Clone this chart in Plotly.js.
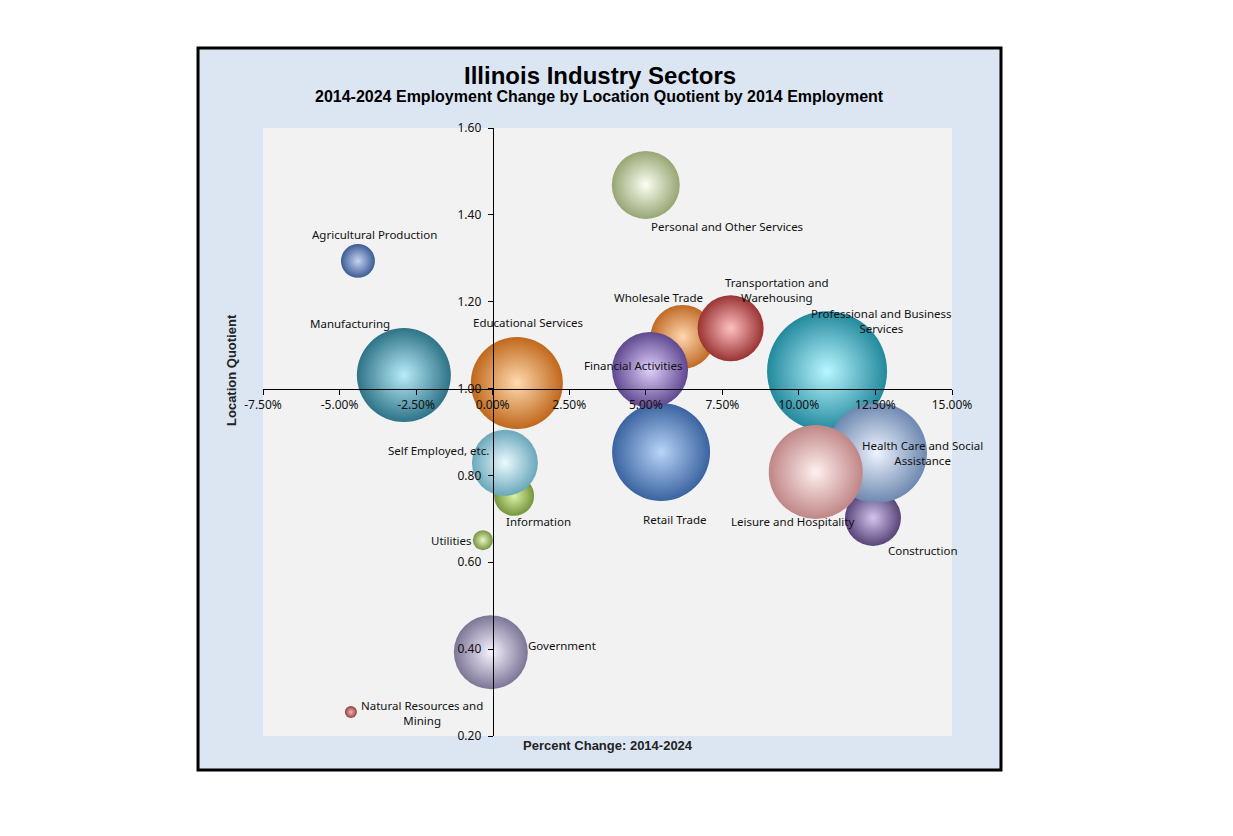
<!DOCTYPE html>
<html><head><meta charset="utf-8">
<script src="https://cdn.plot.ly/plotly-3.0.1.min.js"></script>
<style>html,body{margin:0;padding:0;background:#fff;} #chart{width:1233px;height:836px;}</style>
</head><body><div id="chart"></div>
<script>
// ---- data (drawing order) ----
const sectors = [
  "Natural Resources and Mining", "Agricultural Production", "Construction", "Manufacturing",
  "Wholesale Trade", "Retail Trade", "Transportation and Warehousing", "Utilities",
  "Information", "Financial Activities", "Professional and Business Services",
  "Educational Services", "Health Care and Social Assistance", "Leisure and Hospitality",
  "Personal and Other Services", "Government", "Self Employed, etc."
];
const labelText = [
  "Natural Resources and<br>Mining", "Agricultural Production", "Construction", "Manufacturing",
  "Wholesale Trade", "Retail Trade", "Transportation and<br>Warehousing", "Utilities",
  "Information", "Financial Activities", "Professional and Business<br>Services",
  "Educational Services", "Health Care and Social<br>Assistance", "Leisure and Hospitality",
  "Personal and Other Services", "Government", "Self Employed, etc."
];
const pctChange = [-4.63, -4.40, 12.42, -2.90, 6.20, 5.50, 7.77, -0.32, 0.70, 5.14, 10.92, 0.79, 12.55, 10.55, 5.00, -0.06, 0.40];
const locationQuotient = [0.255, 1.294, 0.702, 1.031, 1.119, 0.854, 1.139, 0.651, 0.753, 1.043, 1.040, 1.013, 0.852, 0.808, 1.469, 0.393, 0.829];
const employment2014 = [9, 72, 196, 552, 256, 600, 272, 25, 100, 361, 900, 529, 625, 552, 289, 342, 272];
const xTickValues = [-7.5, -5, -2.5, 0, 2.5, 5, 7.5, 10, 12.5, 15];
const xTickLabels = ["-7.50%", "-5.00%", "-2.50%", "0.00%", "2.50%", "5.00%", "7.50%", "10.00%", "12.50%", "15.00%"];
const yTickValues = [0.2, 0.4, 0.6, 0.8, 1.0, 1.2, 1.4, 1.6];
const yTickLabels = ["0.20", "0.40", "0.60", "0.80", "1.00", "1.20", "1.40", "1.60"];

// ---- styles ----
const edgeColors = ['#93403d','#3d5c94','#584478','#2e7387','#c06a26','#3a63a0','#9a3333','#76953c','#76953c','#5f4890','#23899d','#c0681c','#6e88b0','#c08686','#97a674','#7d7596','#6aa8ba'];
const centerColors = ['#f2b6b4','#c4d4f2','#d2c4ee','#b8ecf8','#ffd8b0','#b8d4f8','#ffc0c0','#eaf6c8','#dcf2a8','#e0d0fa','#b8f6ff','#ffdab0','#eef4ff','#fff0f0','#fbfff2','#f7f3ff','#ecfaff'];
const labelShift = [[71,-1],[17,26],[50,-33],[-54,52],[-24,39],[14,-68],[46,38],[-31,0],[24,-26],[-17,4],[54,50],[11,60],[46,0],[-23,-50],[81,-42],[71,7],[-66,12]];

const trace = {
  type: 'scatter', mode: 'markers',
  x: pctChange, y: locationQuotient, text: sectors,
  hoverinfo: 'text',
  marker: {
    size: employment2014, sizemode: 'area', sizeref: 0.125,
    color: edgeColors,
    gradient: {type: 'radial', color: centerColors},
    line: {width: 0}, opacity: 1
  }
};

const annotations = sectors.map((s, i) => ({
  x: pctChange[i], y: locationQuotient[i], xref: 'x', yref: 'y',
  text: labelText[i], showarrow: false, xanchor: 'center', yanchor: 'middle',
  xshift: labelShift[i][0], yshift: labelShift[i][1],
  font: {family: 'Noto Sans, sans-serif', size: 11.5, color: '#111'}
}));
annotations.push(
  {xref: 'paper', yref: 'paper', x: 0.489, y: 1.087, text: '<b>Illinois Industry Sectors</b>', showarrow: false,
   xanchor: 'center', yanchor: 'middle', font: {family: 'Liberation Sans, Arial, sans-serif', size: 24, color: '#000'}},
  {xref: 'paper', yref: 'paper', x: 0.489, y: 1.051, text: '<b>2014-2024 Employment Change by Location Quotient by 2014 Employment</b>', showarrow: false,
   xanchor: 'center', yanchor: 'middle', font: {family: 'Liberation Sans, Arial, sans-serif', size: 16, color: '#000'}},
  {xref: 'paper', yref: 'paper', x: 0.5, y: -0.0164, text: '<b>Percent Change: 2014-2024</b>', showarrow: false,
   xanchor: 'center', yanchor: 'middle', font: {family: 'Liberation Sans, Arial, sans-serif', size: 13, color: '#222'}},
  {xref: 'paper', yref: 'paper', x: -0.045, y: 0.602, text: '<b>Location Quotient</b>', showarrow: false, textangle: -90,
   xanchor: 'center', yanchor: 'middle', font: {family: 'Liberation Sans, Arial, sans-serif', size: 13, color: '#222'}}
);

const layout = {
  width: 1233, height: 836,
  margin: {l: 263, r: 281, t: 128, b: 100},
  paper_bgcolor: '#ffffff', plot_bgcolor: '#f2f2f2',
  showlegend: false,
  xaxis: {
    range: [-7.5, 15], tickmode: 'array', tickvals: xTickValues, ticktext: xTickLabels,
    anchor: 'free', position: 0.8 / 1.4, showline: true, linecolor: '#000', linewidth: 1,
    ticks: 'outside', ticklen: 5, tickcolor: '#000', showgrid: false, zeroline: false,
    tickfont: {family: 'Noto Sans, sans-serif', size: 12, color: '#111'}
  },
  yaxis: {
    range: [0.2, 1.6], tickmode: 'array', tickvals: yTickValues, ticktext: yTickLabels,
    anchor: 'free', position: 7.5 / 22.5, showline: true, linecolor: '#000', linewidth: 1,
    ticks: 'outside', ticklen: 5, tickcolor: '#000', showgrid: false, zeroline: false,
    ticklabelstandoff: 4,
    tickfont: {family: 'Noto Sans, sans-serif', size: 12, color: '#111'}
  },
  shapes: [
    {type: 'rect', xref: 'paper', yref: 'paper', x0: -0.0943, x1: 1.0711, y0: -0.0559, y1: 1.1316,
     fillcolor: '#dce6f2', line: {color: '#000', width: 3}, layer: 'below'},
    {type: 'rect', xref: 'paper', yref: 'paper', x0: 0, x1: 1, y0: 0, y1: 1,
     fillcolor: '#f2f2f2', line: {width: 0}, layer: 'below'}
  ],
  annotations: annotations
};

Plotly.newPlot('chart', [trace], layout, {staticPlot: true, displayModeBar: false});
</script>
</body></html>
